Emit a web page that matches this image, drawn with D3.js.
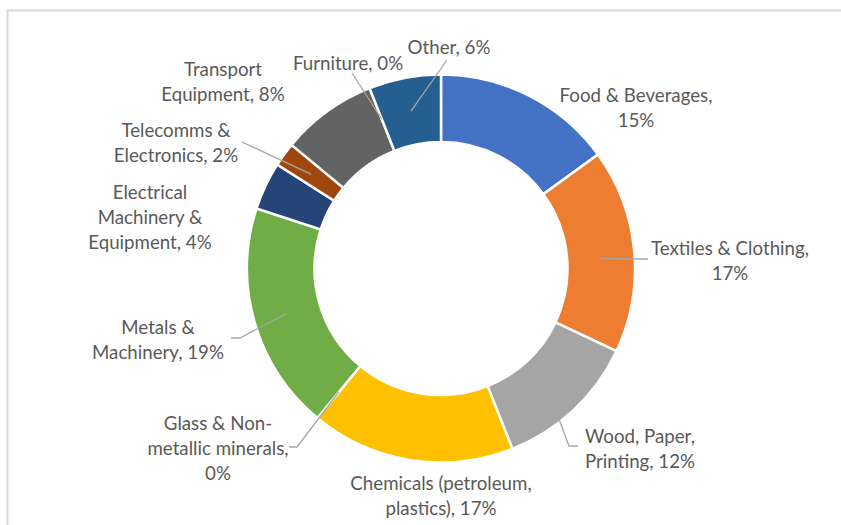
<!DOCTYPE html>
<html>
<head>
<meta charset="utf-8">
<script src="https://cdn.jsdelivr.net/npm/d3@7"></script>
<style>
  html, body { margin: 0; padding: 0; background: #ffffff; }
  svg { display: block; }
  .lbl { font-family: Lato, "Open Sans", sans-serif; font-size: 18.7px; fill: #595959; }
</style>
</head>
<body>
<svg id="chart" width="841" height="525"></svg>
<script>
// Sector shares (%)
const categories = [
  "Food & Beverages",
  "Textiles & Clothing",
  "Wood, Paper, Printing",
  "Chemicals (petroleum, plastics)",
  "Glass & Non-metallic minerals",
  "Metals & Machinery",
  "Electrical Machinery & Equipment",
  "Telecomms & Electronics",
  "Transport Equipment",
  "Furniture",
  "Other"
];
const values = [15, 17, 12, 17, 0, 19, 4, 2, 8, 0, 6];
const colors = ["#4472C4", "#ED7D31", "#A5A5A5", "#FFC000", "#5B9BD5", "#70AD47",
                "#264478", "#9E480E", "#636363", "#997300", "#255E91"];

// Label placement: centre of the text block, words per line,
// where along the slice (t) and at what radius the leader starts, and leader path points.
const layout = [
  { x: 636, y: 95,  lines: [3, 1] },
  { x: 730, y: 248, lines: [3, 1], t: 0.53, r: "mid", leader: [[648, 259]] },
  { x: 640, y: 436, lines: [2, 2], t: 0.62, r: "outer", leader: [[569, 446], [578, 446]] },
  { x: 441, y: 483, lines: [2, 2] },
  { x: 218, y: 423, lines: [3, 2, 1], t: 0.5, r: "mid", leader: [[297, 447], [289, 447]] },
  { x: 158, y: 327, lines: [2, 2], t: 0.5, r: "mid", leader: [[240, 338], [231, 338]] },
  { x: 150, y: 192, lines: [1, 2, 2] },
  { x: 176, y: 130, lines: [2, 2], t: 0.5, r: "mid", leader: [[242, 142]] },
  { x: 223, y: 69,  lines: [1, 2] },
  { x: 348, y: 63,  lines: [2], t: 0.5, r: "mid", leader: [[352, 73]] },
  { x: 449, y: 47,  lines: [2], t: 0.5, r: "mid", leader: [[447, 60]] }
];

const W = 841, H = 525;
const cx = 441, cy = 268.5;
const outerR = 194, innerR = 126.5;
const lineH = 25;

const svg = d3.select("#chart");

// chart area frame
svg.append("rect")
  .attr("x", 7.5).attr("y", 10.5)
  .attr("width", 900).attr("height", 600)
  .attr("fill", "#ffffff")
  .attr("stroke", "#d9d9d9").attr("stroke-width", 2);

const data = categories.map((c, i) => ({ name: c, value: values[i], color: colors[i], lay: layout[i] }));

const pie = d3.pie().value(d => d.value).sort(null).startAngle(0).endAngle(2 * Math.PI);
const arcs = pie(data);

const arc = d3.arc().innerRadius(innerR).outerRadius(outerR);

const g = svg.append("g").attr("transform", `translate(${cx},${cy})`);

g.selectAll("path.slice")
  .data(arcs)
  .join("path")
  .attr("class", "slice")
  .attr("d", arc)
  .attr("fill", d => d.data.color)
  .attr("stroke", "#ffffff")
  .attr("stroke-width", 2.5)
  .attr("stroke-linejoin", "miter");

// leader lines
const leaderData = arcs.filter(a => a.data.lay.leader);
svg.selectAll("path.leader")
  .data(leaderData)
  .join("path")
  .attr("class", "leader")
  .attr("fill", "none")
  .attr("stroke", "#a6a6a6")
  .attr("stroke-width", 1.3)
  .attr("d", a => {
    const L = a.data.lay;
    const ang = a.startAngle + (a.endAngle - a.startAngle) * L.t;
    const rr = L.r === "outer" ? outerR - 2 : (innerR + outerR) / 2;
    const sx = cx + rr * Math.sin(ang);
    const sy = cy - rr * Math.cos(ang);
    return d3.line()([[sx, sy], ...L.leader]);
  });

// data labels
function splitLines(text, counts) {
  const words = text.split(/\s+/).flatMap(w => {
    const m = w.match(/^(.+-)(.+)$/);
    return m ? [m[1], m[2]] : [w];
  });
  const out = [];
  let k = 0;
  counts.forEach(n => {
    const part = words.slice(k, k + n);
    k += n;
    let s = "";
    part.forEach((w, j) => { s += (j > 0 && !part[j - 1].endsWith("-") ? " " : "") + w; });
    out.push(s);
  });
  return out;
}

arcs.forEach(a => {
  const L = a.data.lay;
  const full = `${a.data.name}, ${a.data.value}%`;
  const lines = splitLines(full, L.lines);
  const t = svg.append("text")
    .attr("class", "lbl")
    .attr("text-anchor", "middle");
  lines.forEach((ln, i) => {
    t.append("tspan")
      .attr("x", L.x)
      .attr("y", L.y + i * lineH)
      .attr("dy", "0.35em")
      .text(ln);
  });
});
</script>
</body>
</html>
